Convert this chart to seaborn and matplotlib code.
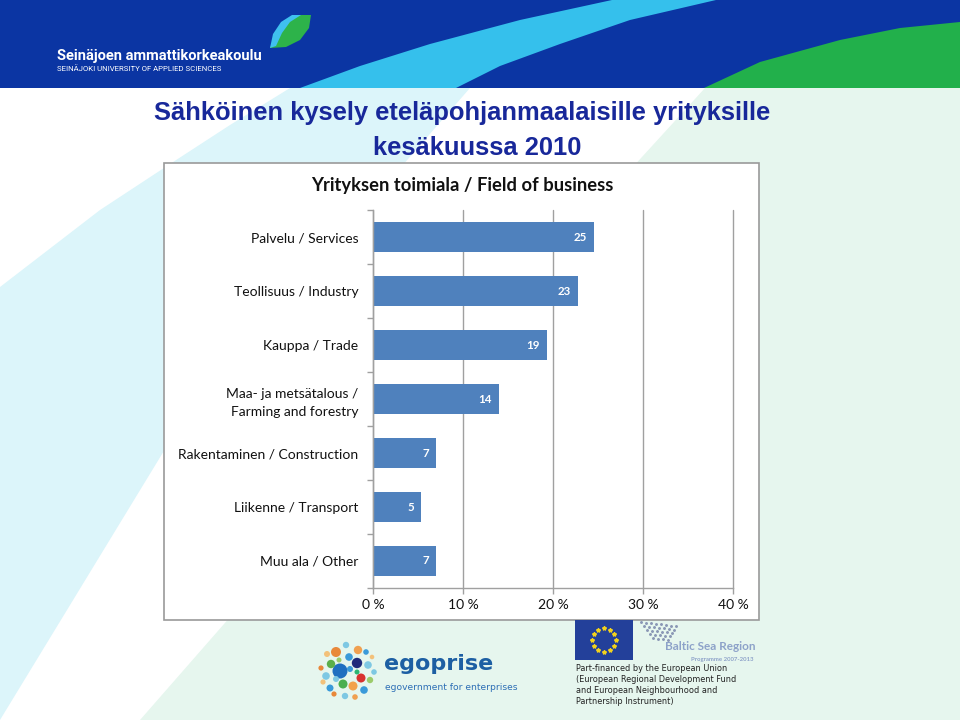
import numpy as np
import pandas as pd
import matplotlib
matplotlib.use("Agg")
import matplotlib.pyplot as plt
import seaborn as sns
from matplotlib.patches import Rectangle, Polygon, Ellipse
from matplotlib.lines import Line2D

# ---------------- data ----------------
categories = ["Palvelu / Services", "Teollisuus / Industry", "Kauppa / Trade",
              "Maa- ja metsätalous /\nFarming and forestry", "Rakentaminen / Construction",
              "Liikenne / Transport", "Muu ala / Other"]
shares = [24.6, 22.8, 19.3, 14.0, 7.0, 5.3, 7.0]
bar_labels = ["25", "23", "19", "14", "7", "5", "7"]
x_ticks = [0, 10, 20, 30, 40]
x_tick_labels = ["0 %", "10 %", "20 %", "30 %", "40 %"]

slide_title_1 = "Sähköinen kysely eteläpohjanmaalaisille yrityksille"
slide_title_2 = "kesäkuussa 2010"
chart_title = "Yrityksen toimiala / Field of business"

W, H = 960, 720
def fx(x): return x / W
def fy(y): return 1 - y / H

sns.set_theme(style="white")
plt.rcParams["font.family"] = ["Lato", "DejaVu Sans"]

fig = plt.figure(figsize=(9.6, 7.2), dpi=100)
fig.patch.set_facecolor("white")

def poly(pts, color, z=-10):
    p = Polygon([(fx(x), fy(y)) for x, y in pts], closed=True,
                transform=fig.transFigure, facecolor=color, edgecolor="none", zorder=z)
    fig.add_artist(p)

def rect(x0, y0, x1, y1, face, edge="none", lw=0, z=-10):
    r = Rectangle((fx(x0), fy(y1)), fx(x1) - fx(x0), fy(y0) - fy(y1),
                  transform=fig.transFigure, facecolor=face, edgecolor=edge, lw=lw, zorder=z)
    fig.add_artist(r)

def dot(x, y, r, color, z=5):
    e = Ellipse((fx(x), fy(y)), 2 * r / W, 2 * r / H, transform=fig.transFigure,
                facecolor=color, edgecolor="none", zorder=z)
    fig.add_artist(e)

# ---------------- background ----------------
poly([(290, 88), (470, 88), (320, 260), (170, 441), (0, 720), (0, 287), (100, 210), (170, 164), (230, 125)],
     "#DCF5FA", z=-12)
poly([(705, 88), (960, 88), (960, 720), (140, 720), (420, 400)], "#E6F6EE", z=-12)

# banner
rect(0, 0, 960, 88, "#0B35A3", z=-9)
poly([(300, 88), (360, 66), (430, 44), (520, 20), (612, 0), (716, 0), (630, 20), (560, 44), (500, 66), (456, 88)],
     "#35C0EC", z=-8)
poly([(704, 88), (760, 62), (840, 40), (900, 28), (960, 22), (960, 88)], "#22B04B", z=-8)

# leaf logo
poly([(270, 48), (276, 32), (288, 20), (300, 15), (311, 15), (309, 28), (300, 40), (286, 47)], "#2DB34A", z=-7)
poly([(270, 48), (273, 34), (281, 22), (292, 15), (301, 15), (290, 22), (282, 33), (276, 46)], "#3FC0EF", z=-6)
fig.text(fx(57), fy(56), "Seinäjoen ammattikorkeakoulu", color="white", fontsize=10.5,
         fontweight="bold", family=["Roboto", "DejaVu Sans"], ha="left", va="center")
fig.text(fx(57), fy(69), "SEINÄJOKI UNIVERSITY OF APPLIED SCIENCES", color="white", fontsize=5.6,
         family=["Roboto", "DejaVu Sans"], ha="left", va="center")

# slide title
tfam = ["Liberation Sans", "DejaVu Sans"]
fig.text(fx(462), fy(113), slide_title_1, color="#18289A", fontsize=18.4, fontweight="bold",
         family=tfam, ha="center", va="center")
fig.text(fx(477), fy(148), slide_title_2, color="#18289A", fontsize=18.4, fontweight="bold",
         family=tfam, ha="center", va="center")

# chart box
rect(164, 163, 759, 620, "white", edge="#9A9A9A", lw=1.2, z=-5)
fig.text(fx(462), fy(185), chart_title, fontsize=13.2, fontweight="bold", color="#111111",
         ha="center", va="center")

# ---------------- chart ----------------
ax = fig.add_axes([fx(373), fy(588), (733 - 373) / W, (588 - 210) / H])
ax.set_facecolor("none")
df = pd.DataFrame({"category": categories, "share": shares})
sns.barplot(data=df, x="share", y="category", orient="h", color="#4F81BD", saturation=1,
            width=0.56, linewidth=0, ax=ax)
ax.set_xlim(0, 40)
ax.set_ylim(6.5, -0.5)
ax.set_xticks(x_ticks)
ax.set_xticklabels(x_tick_labels)
ax.set_yticks(range(len(categories)))
ax.set_yticklabels(categories)
ax.set_yticks(np.arange(-0.5, len(categories), 1), minor=True)
ax.set_xlabel("")
ax.set_ylabel("")
ax.xaxis.grid(True, color="#A0A0A0", lw=1)
ax.yaxis.grid(False)
ax.set_axisbelow(True)
for gl in ax.get_xgridlines():
    gl.set_clip_on(False)
for s in ["top", "right"]:
    ax.spines[s].set_visible(False)
for s in ["left", "bottom"]:
    ax.spines[s].set_color("#A0A0A0")
    ax.spines[s].set_linewidth(1)
ax.tick_params(axis="y", which="major", length=0, pad=10.5, labelsize=10, labelcolor="#111111")
ax.tick_params(axis="y", which="minor", length=4, width=1, color="#A0A0A0", direction="out", left=True)
ax.tick_params(axis="x", length=4, width=1, color="#A0A0A0", direction="out", bottom=True,
               pad=4, labelsize=10, labelcolor="#111111")
for lbl in ax.get_yticklabels():
    lbl.set_multialignment("right")
    lbl.set_linespacing(1.55)

for i, (v, l) in enumerate(zip(shares, bar_labels)):
    ax.annotate(l, (v, i), xytext=(-5, 0), textcoords="offset points", ha="right", va="center",
                color="white", fontweight="bold", fontsize=8.3)

# ---------------- bottom logos ----------------
dots = [
    (340, 671, 7.5, "#1F6FC0"), (357, 663, 5.2, "#1E2A7A"), (361, 678, 4.5, "#D8312F"),
    (336, 652, 5.0, "#E8883A"), (358, 650, 4.2, "#F0A050"), (331, 664, 4.2, "#5BAF4A"),
    (343, 684, 4.5, "#4CAF50"), (353, 686, 4.5, "#F2A24B"), (349, 657, 3.8, "#3A9AD9"),
    (326, 676, 3.8, "#7EC8E3"), (330, 688, 3.5, "#3A9AD9"), (368, 665, 3.8, "#7EC8E3"),
    (370, 680, 3.2, "#9CCB6B"), (364, 690, 3.8, "#3A9AD9"), (345, 696, 3.2, "#7EC8E3"),
    (355, 697, 2.8, "#F0A050"), (346, 645, 3.2, "#7EC8E3"), (366, 652, 2.8, "#3A9AD9"),
    (327, 654, 3.0, "#F3C17A"), (321, 668, 2.6, "#E8883A"), (323, 682, 2.6, "#F3C17A"),
    (374, 672, 2.8, "#7EC8E3"), (334, 694, 2.6, "#E8883A"), (350, 669, 3.0, "#3A9AD9"),
    (357, 672, 2.5, "#2BB673"), (339, 660, 2.5, "#9CCB6B"), (372, 657, 2.3, "#F3C17A"),
    (336, 679, 3.0, "#7EC8E3"),
]
for x, y, r, c in dots:
    dot(x, y, r, c)
fig.text(fx(384), fy(664), "egoprise", color="#1D5FA3", fontsize=16, fontweight="bold",
         family=["DejaVu Sans"], ha="left", va="center")
fig.text(fx(385), fy(687), "egovernment for enterprises", color="#2C6EB5", fontsize=6.6,
         family=["DejaVu Sans"], ha="left", va="center")

# EU flag
rect(575, 620, 633, 660, "#23409A", z=5)
for k in range(12):
    a = 2 * np.pi * k / 12
    fig.add_artist(Line2D([fx(604 + 12 * np.cos(a))], [fy(640 + 12 * np.sin(a))], marker="*",
                          markersize=3, color="#F3D21C", lw=0, transform=fig.transFigure, zorder=6))
# Baltic Sea Region pattern
for row in range(5):
    for col in range(8 - row):
        fig.add_artist(Line2D([fx(641 + col * 5 + row * 3)], [fy(622 + row * 4 + col * 0.6)],
                              marker="o", markersize=1.1, color="#8A97B5", lw=0,
                              transform=fig.transFigure, zorder=6))
fig.text(fx(665), fy(646), "Baltic Sea Region", color="#8DA2C9", fontsize=8.5, fontweight="bold",
         ha="left", va="center")
fig.text(fx(691), fy(660), "Programme 2007-2013", color="#8DA2C9", fontsize=4.3, fontweight="bold",
         ha="left", va="center")
fig.text(fx(576), fy(664), "Part-financed by the European Union\n(European Regional Development Fund\n"
         "and European Neighbourhood and\nPartnership Instrument)", color="#222222", fontsize=5.9,
         family=["DejaVu Sans"], ha="left", va="top", linespacing=1.3)

fig.savefig("out.png", dpi=100)
